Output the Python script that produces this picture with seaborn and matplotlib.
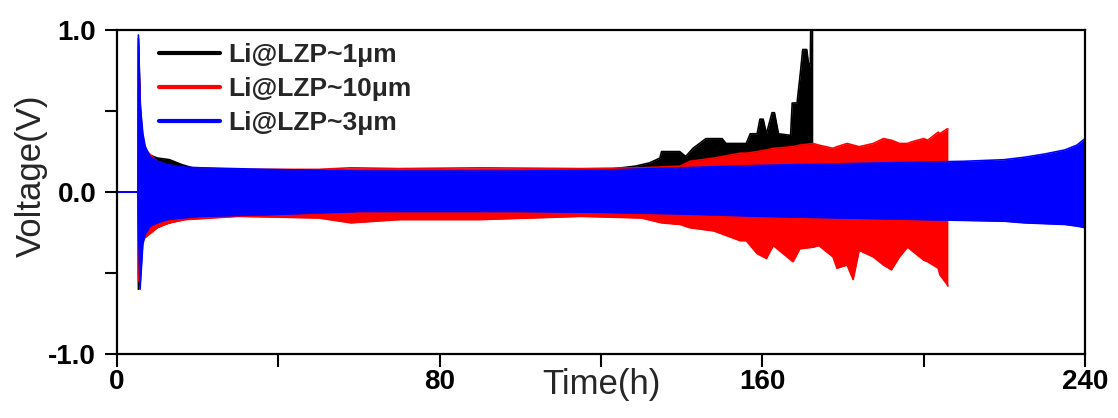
import numpy as np
import pandas as pd
import matplotlib
matplotlib.use("Agg")
import matplotlib.pyplot as plt
from matplotlib.lines import Line2D
import seaborn as sns

### Envelope of the voltage oscillation (time in h, volts)

# Li@LZP~1um (black)
t_1um = [0, 5.2, 5.3, 6.0, 7.0, 8.0, 10.0, 13.0, 16.0, 20.0, 40.0, 80.0, 120.0,
         128.5, 132.0, 134.6, 135.0, 139.5, 141.0, 142.8, 146.0, 150.0, 151.0,
         156.0, 157.0, 158.7, 159.4, 160.2, 161.0, 162.4, 163.0, 164.0, 167.0,
         167.4, 168.6, 169.4, 170.0, 171.0, 171.6, 171.9, 172.0, 172.5]
up_1um = [0, 0, 0.95, 0.34, 0.26, 0.23, 0.21, 0.20, 0.17, 0.14, 0.13, 0.13, 0.135,
          0.16, 0.18, 0.21, 0.25, 0.25, 0.22, 0.27, 0.33, 0.33, 0.30,
          0.30, 0.36, 0.36, 0.45, 0.45, 0.36, 0.49, 0.49, 0.36, 0.35,
          0.55, 0.55, 0.73, 0.88, 0.88, 0.76, 0.80, 1.05, 1.05]
lo_1um = [0, 0, -0.6, -0.32, -0.27, -0.24, -0.21, -0.19, -0.17, -0.15, -0.14, -0.13, -0.14,
          -0.15, -0.15, -0.16, -0.17, -0.17, -0.18, -0.18, -0.19, -0.19, -0.19,
          -0.2, -0.2, -0.2, -0.2, -0.2, -0.2, -0.2, -0.2, -0.2, -0.2,
          -0.2, -0.2, -0.2, -0.2, -0.2, -0.2, -0.2, -0.2, -0.2]

# Li@LZP~10um (red)
t_10um = [0, 5.2, 5.3, 6.0, 7.0, 10.0, 13.0, 17.0, 30.0, 50.0, 58.0, 70.0, 90.0,
          115.0, 130.0, 135.0, 139.6, 142.0, 148.0, 154.5, 156.0, 158.7, 161.0,
          162.7, 167.6, 169.3, 172.6, 174.0, 177.5, 178.5, 181.0, 182.5, 184.0,
          187.5, 190.0, 192.0, 194.0, 196.0, 197.0, 200.0, 201.0, 203.6, 204.0,
          205.8, 206.0]
up_10um = [0, 0, 0.9, 0.32, 0.26, 0.19, 0.16, 0.15, 0.14, 0.14, 0.15, 0.145, 0.15,
           0.145, 0.15, 0.155, 0.16, 0.19, 0.21, 0.24, 0.24, 0.25, 0.26,
           0.27, 0.28, 0.29, 0.30, 0.29, 0.27, 0.28, 0.30, 0.29, 0.28,
           0.30, 0.33, 0.32, 0.30, 0.30, 0.31, 0.33, 0.32, 0.37, 0.36,
           0.39, 0.39]
lo_10um = [0, 0, -0.55, -0.30, -0.28, -0.22, -0.19, -0.17, -0.15, -0.16, -0.19, -0.17, -0.17,
           -0.15, -0.16, -0.19, -0.20, -0.22, -0.24, -0.30, -0.30, -0.38, -0.41,
           -0.33, -0.43, -0.35, -0.34, -0.33, -0.40, -0.47, -0.45, -0.54, -0.36,
           -0.40, -0.45, -0.48, -0.40, -0.34, -0.36, -0.42, -0.43, -0.47, -0.51,
           -0.57, -0.58]

# Li@LZP~3um (blue)
t_3um = [0, 5.2, 5.3, 5.7, 6.4, 7.0, 8.2, 10.0, 12.4, 16.0, 20.6, 37.0, 60.0, 80.0,
         100.0, 120.0, 140.0, 160.0, 180.0, 200.0, 210.0, 220.0, 225.0, 230.0,
         235.0, 238.0, 240.0]
up_3um = [0, 0, 0.97, 0.55, 0.36, 0.28, 0.22, 0.19, 0.17, 0.155, 0.15, 0.14, 0.13, 0.13,
          0.13, 0.135, 0.15, 0.165, 0.175, 0.185, 0.19, 0.20, 0.215, 0.235,
          0.26, 0.29, 0.33]
lo_3um = [0, 0, -0.2, -0.6, -0.32, -0.26, -0.21, -0.19, -0.17, -0.16, -0.15, -0.14, -0.12, -0.12,
          -0.12, -0.125, -0.135, -0.15, -0.16, -0.17, -0.175, -0.18, -0.19, -0.195,
          -0.2, -0.21, -0.22]

labels = ["Li@LZP~1μm", "Li@LZP~10μm", "Li@LZP~3μm"]
colors = ["black", "red", "blue"]

x_ticks = [0, 80, 160, 240]
x_minor = [40, 120, 200]
y_ticks = [-1.0, 0.0, 1.0]
y_minor = [-0.5, 0.5]

series = [(t_1um, up_1um, lo_1um), (t_10um, up_10um, lo_10um), (t_3um, up_3um, lo_3um)]

sns.set_style("ticks")
plt.rcParams['font.family'] = ['Liberation Sans', 'DejaVu Sans']

fig = plt.figure(figsize=(11.18, 4.18), dpi=100)
ax = fig.add_axes([0.1047, 0.153, 0.8658, 0.775])

# each series stacked on top of the previous one (black, red, then blue)
for i, ((t, up, lo), lab, c) in enumerate(zip(series, labels, colors)):
    df = pd.DataFrame({"Time": t, "up": up, "lo": lo})
    z = 2 + i
    ax.fill_between(df["Time"], df["lo"], df["up"], color=c, lw=0, zorder=z)
    sns.lineplot(data=df, x="Time", y="up", color=c, lw=1.2, estimator=None, sort=False,
                 ax=ax, zorder=z)
    sns.lineplot(data=df, x="Time", y="lo", color=c, lw=1.2, estimator=None, sort=False,
                 ax=ax, zorder=z)

ax.set_xlim(0, 240)
ax.set_ylim(-1.0, 1.0)
ax.set_xticks(x_ticks)
ax.set_xticks(x_minor, minor=True)
ax.set_xticklabels([str(v) for v in x_ticks])
ax.set_yticks(y_ticks)
ax.set_yticks(y_minor, minor=True)
ax.set_yticklabels([f"{v:.1f}" for v in y_ticks])

for s in ax.spines.values():
    s.set_visible(True)
    s.set_linewidth(1.6)
    s.set_color("black")
    s.set_zorder(10)
ax.tick_params(which="both", direction="out", width=1.5, colors="black", length=9)
ax.tick_params(axis="x", which="major", labelsize=20, pad=2)
ax.tick_params(axis="y", which="major", labelsize=20, pad=6)
for lab in ax.get_xticklabels() + ax.get_yticklabels():
    lab.set_fontweight("bold")

ax.set_xlabel("Time(h)", fontsize=25, labelpad=-20)
ax.set_ylabel("Voltage(V)", fontsize=25)
ax.yaxis.set_label_coords(-0.071, 0.55)

handles = [Line2D([], [], color=c, lw=3) for c in colors]
leg = ax.legend(handles, labels, loc="upper left", bbox_to_anchor=(0.03, 1.0), frameon=False,
                prop={"weight": "bold", "size": 19}, handlelength=2.3, handletextpad=0.3,
                labelspacing=0.38, borderaxespad=0.1)
leg.set_zorder(20)

plt.savefig("out.png", dpi=100)
